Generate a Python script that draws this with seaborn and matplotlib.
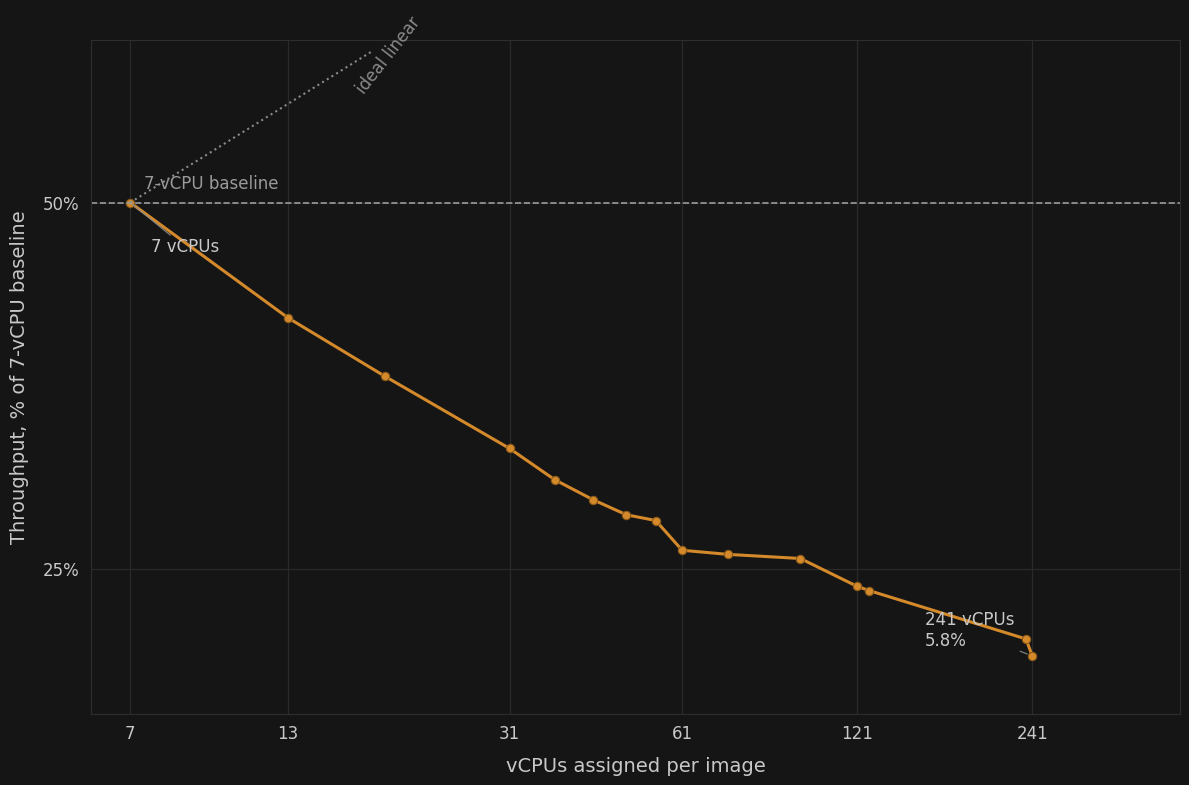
import numpy as np
import pandas as pd
import matplotlib
matplotlib.use("Agg")
import matplotlib.pyplot as plt
import seaborn as sns
from matplotlib.ticker import FixedLocator, NullLocator

# datos
vcpus = [7, 13, 19, 31, 37, 43, 49, 55, 61, 73, 97, 121, 127, 235, 241]
throughput = [50.0, 40.2, 36.0, 31.4, 29.6, 28.5, 27.7, 27.4, 25.9, 25.7, 25.5, 24.2, 24.0, 21.9, 21.2]
ideal_x = [7, 18.1]
ideal_y = [50.0, 66.6]
xticks = [7, 13, 31, 61, 121, 241]
yticks = [25, 50]

bg = "#151515"
orange = "#d4892a"
txt = "#c8c8c8"

sns.set_style("dark")
plt.rcParams["font.family"] = ["DejaVu Sans"]

fig = plt.figure(figsize=(11.89, 7.85), dpi=100, facecolor=bg)
ax = fig.add_axes([0.0765, 0.0904, 0.9159, 0.8586])
ax.set_facecolor(bg)

df = pd.DataFrame({"vcpus": vcpus, "tp": throughput})
sns.lineplot(data=df, x="vcpus", y="tp", ax=ax, color=orange, linewidth=2.2,
             marker="o", markersize=6, markeredgecolor="#8a5a1a", markeredgewidth=0.8)
ax.plot(ideal_x, ideal_y, ls=":", color="#8a8a8a", lw=1.5)
ax.axhline(50, ls="--", color="#9a9a9a", lw=1.2)

ax.set_xscale("log")
ax.set_yscale("log", base=2)
ax.set_xlim(6.0, 430)
ax.set_ylim(19.0, 68.0)
ax.xaxis.set_major_locator(FixedLocator(xticks))
ax.xaxis.set_minor_locator(NullLocator())
ax.set_xticklabels([str(t) for t in xticks])
ax.yaxis.set_major_locator(FixedLocator(yticks))
ax.yaxis.set_minor_locator(NullLocator())
ax.set_yticklabels([f"{t}%" for t in yticks])
ax.tick_params(colors=txt, labelsize=12, length=0, pad=8)
ax.grid(True, color="#2a2a2a", lw=0.9)
for s in ax.spines.values():
    s.set_color("#2e2e2e")

ax.set_xlabel("vCPUs assigned per image", color=txt, fontsize=14, labelpad=10)
ax.set_ylabel("Throughput, % of 7-vCPU baseline", color=txt, fontsize=14, labelpad=10)

ax.text(7.4, 50.9, "7-vCPU baseline", color="#9a9a9a", fontsize=12, va="bottom")
ax.text(16.8, 61.5, "ideal linear", color="#8a8a8a", fontsize=12, rotation=52)
ax.annotate("7 vCPUs", xy=(7, 50), xytext=(7.6, 45.5), color=txt, fontsize=12,
            arrowprops=dict(arrowstyle="-", color="#8a8a8a", lw=0.8, shrinkA=0, shrinkB=2))
ax.annotate("241 vCPUs\n5.8%", xy=(241, 21.2), xytext=(158, 21.6), color=txt, fontsize=12,
            arrowprops=dict(arrowstyle="-", color="#8a8a8a", lw=0.8, shrinkA=2, shrinkB=4))

fig.savefig("out.png", dpi=100, facecolor=bg)
